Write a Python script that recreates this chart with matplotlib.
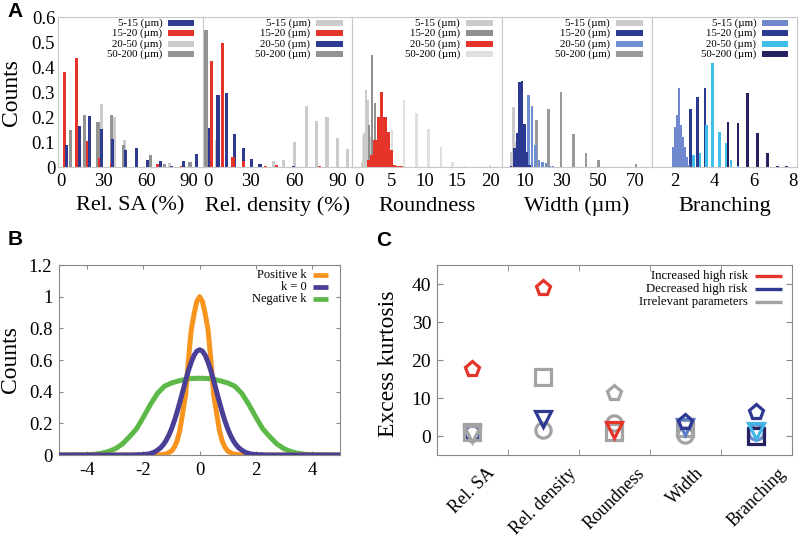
import matplotlib.pyplot as plt

plt.rcParams['font.family'] = ['Liberation Serif', 'DejaVu Serif']
plt.rcParams['axes.unicode_minus'] = False

size_labels = ['5-15 (µm)', '15-20 (µm)', '20-50 (µm)', '50-200 (µm)']

# ---- panel A: bar centres (x) and counts (h) for each size class
# Rel. SA
sa_x_5_15 = [4.2, 13.3, 20.2, 28.6, 36.3, 45.4, 53.0, 60.7, 69.8, 77.5, 85.8, 94.9]
sa_h_5_15 = [0.088, 0.164, 0.204, 0.152, 0.112, 0.068, 0.076, 0.028, 0.024, 0.004, 0.024, 0.052]
sa_x_15_20 = [2.8, 11.2, 18.8, 27.2, 35.6, 67.7, 84.4]
sa_h_15_20 = [0.38, 0.436, 0.105, 0.035, 0.015, 0.012, 0.005]
sa_x_20_50 = [28.5, 37.6, 44.7, 62.0, 76.0, 86.5]
sa_h_20_50 = [0.252, 0.2, 0.108, 0.03, 0.015, 0.005]
sa_x_50_200 = [7.0, 16.7, 26.0, 35.5, 44.0, 62.8, 72.5, 90.5]
sa_h_50_200 = [0.15, 0.21, 0.18, 0.21, 0.09, 0.048, 0.012, 0.02]

# Rel. density
rd_x_5_15 = [6.0, 16.5, 45.6, 52.7, 60.4, 68.5, 75.5, 82.8, 90.0, 97.0]
rd_h_5_15 = [0.108, 0.004, 0.024, 0.028, 0.101, 0.244, 0.184, 0.199, 0.115, 0.072]
rd_x_15_20 = [2.6, 10.3, 17.7, 24.7, 39.9, 47.6, 77.5]
rd_h_15_20 = [0.424, 0.497, 0.041, 0.025, 0.005, 0.008, 0.006]
rd_x_20_50 = [1.4, 7.2, 13.0, 18.9, 24.7, 30.5, 36.4, 59.4]
rd_h_20_50 = [0.157, 0.29, 0.295, 0.131, 0.075, 0.032, 0.011, 0.004]
rd_x_50_200 = [-1.0]
rd_h_50_200 = [0.548]

# Roundness
rn_x_5_15 = [0.5, 0.8, 1.1, 1.4, 1.7, 2.0]
rn_h_5_15 = [0.02, 0.135, 0.31, 0.27, 0.12, 0.05]
rn_x_15_20 = [1.6, 2.05, 2.45, 2.85, 3.2]
rn_h_15_20 = [0.168, 0.448, 0.255, 0.09, 0.02]
rn_x_20_50 = [1.5, 2.0, 2.5, 3.0, 3.5, 4.0, 4.5, 5.0, 5.5, 6.0, 6.5]
rn_h_20_50 = [0.03, 0.05, 0.11, 0.2, 0.3, 0.2, 0.14, 0.07, 0.01, 0.004, 0.004]
rn_x_50_200 = [0.7, 5.1, 6.9, 8.8, 10.6, 12.5, 14.3, 16.2, 20.0]
rn_h_50_200 = [0.13, 0.15, 0.268, 0.217, 0.152, 0.081, 0.019, 0.005, 0.01]

# Width
wd_x_5_15 = [2.3, 3.7, 5.1]
wd_h_5_15 = [0.06, 0.24, 0.1]
wd_x_15_20 = [2.4, 4.1, 5.6, 7.0, 8.4, 9.8, 11.1, 12.5]
wd_h_15_20 = [0.005, 0.075, 0.135, 0.34, 0.345, 0.172, 0.061, 0.01]
wd_x_20_50 = [9.9, 11.8, 13.9, 15.8, 17.7, 19.6, 21.5, 23.4, 25.3]
wd_h_20_50 = [0.12, 0.29, 0.245, 0.09, 0.027, 0.02, 0.015, 0.005, 0.004]
wd_x_50_200 = [16.3, 22.9, 29.7, 36.5, 43.3, 50.1, 70.5]
wd_h_50_200 = [0.188, 0.232, 0.299, 0.131, 0.057, 0.028, 0.012]

# Branching
br_x_5_15 = [1.93, 2.03, 2.13, 2.23, 2.33, 2.43, 2.53, 2.63, 2.73]
br_h_5_15 = [0.081, 0.161, 0.208, 0.315, 0.168, 0.121, 0.081, 0.041, 0.01]
br_x_15_20 = [2.8, 3.17, 3.53, 3.9, 4.27]
br_h_15_20 = [0.231, 0.279, 0.315, 0.088, 0.04]
br_x_20_50 = [2.95, 3.28, 3.62, 3.92, 4.25, 4.6, 4.85, 5.2]
br_h_20_50 = [0.05, 0.055, 0.168, 0.415, 0.141, 0.097, 0.03, 0.004]
br_x_50_200 = [4.7, 5.2, 5.7, 6.2, 6.7, 7.2, 7.65]
br_h_50_200 = [0.181, 0.175, 0.297, 0.137, 0.057, 0.005, 0.005]

# ---- panel B: curves
pos_x = [-5, -1.5, -1.2, -1.0, -0.9, -0.8, -0.7, -0.6, -0.5, -0.4, -0.3, -0.2, -0.1, 0,
         0.1, 0.2, 0.3, 0.4, 0.5, 0.6, 0.7, 0.8, 0.9, 1.0, 1.2, 1.5, 5]
pos_y = [0, 0, 0.006, 0.025, 0.05, 0.09, 0.16, 0.27, 0.38, 0.6, 0.79, 0.89, 0.97, 1.0,
         0.97, 0.89, 0.79, 0.6, 0.38, 0.27, 0.16, 0.09, 0.05, 0.025, 0.006, 0, 0]
zero_x = [-5, -2.4, -2.0, -1.8, -1.6, -1.4, -1.3, -1.2, -1.1, -1.0, -0.9, -0.8, -0.7, -0.6,
          -0.5, -0.4, -0.3, -0.2, -0.1, 0, 0.1, 0.2, 0.3, 0.4, 0.5, 0.6, 0.7, 0.8, 0.9,
          1.0, 1.1, 1.2, 1.3, 1.4, 1.6, 1.8, 2.0, 2.4, 5]
zero_y = [0, 0, 0.003, 0.007, 0.019, 0.044, 0.064, 0.09, 0.124, 0.166, 0.216, 0.273, 0.337,
          0.403, 0.47, 0.533, 0.586, 0.629, 0.656, 0.665, 0.656, 0.629, 0.586, 0.533, 0.47,
          0.403, 0.337, 0.273, 0.216, 0.166, 0.124, 0.09, 0.064, 0.044, 0.019, 0.007, 0.003, 0, 0]
neg_x = [-5, -4.5, -4.0, -3.75, -3.5, -3.25, -3.0, -2.75, -2.5, -2.25, -2.0, -1.75, -1.5,
         -1.25, -1.0, -0.75, -0.5, -0.25, 0, 0.25, 0.5, 0.75, 1.0, 1.25, 1.5, 1.75, 2.0,
         2.25, 2.5, 2.75, 3.0, 3.25, 3.5, 3.75, 4.0, 4.5, 5]
neg_y = [0, 0, 0.002, 0.005, 0.011, 0.022, 0.04, 0.07, 0.115, 0.165, 0.24, 0.32, 0.39,
         0.435, 0.455, 0.468, 0.478, 0.484, 0.485, 0.484, 0.478, 0.468, 0.455, 0.435, 0.39,
         0.32, 0.24, 0.165, 0.115, 0.07, 0.04, 0.022, 0.011, 0.005, 0.002, 0, 0]

# ---- panel C: excess kurtosis per parameter and size class
kurt_params = ['Rel. SA', 'Rel. density', 'Roundness', 'Width', 'Branching']
kurt_5_15 = [0.8, 1.7, 3.5, 0.3, 1.0]
kurt_15_20 = [17.6, 39.0, 11.4, 3.8, 6.2]
kurt_20_50 = [0.5, 4.5, 1.6, 2.3, 1.3]
kurt_50_200 = [1.1, 15.6, 1.1, 2.0, 0.0]

RED = '#e5352b'
BLUE = '#2e3a92'
LGREY = '#cbcbcb'
DGREY = '#939393'
GREY = '#a3a3a3'

fig = plt.figure(figsize=(8, 5.39), dpi=100)


def hist_panel(left, width, series, colors, widths, order, xlim, xticks, xlabel, first=False):
    ax = fig.add_axes([left, 0.690, width, 0.2783])
    for i in order:
        x, h = series[i]
        ax.bar(x, h, width=widths[i], color=colors[i], linewidth=0, zorder=2)
    ax.set_xlim(*xlim)
    ax.set_ylim(0, 0.6)
    ax.set_xticks(xticks)
    ax.tick_params(length=0, labelsize=13.5, pad=4)
    for s in ax.spines.values():
        s.set_color('#c8c8c8')
    if first:
        ax.set_yticks([0, 0.1, 0.2, 0.3, 0.4, 0.5, 0.6])
        ax.set_yticklabels(['0', '0.1', '0.2', '0.3', '0.4', '0.5', '0.6'])
        ax.tick_params(axis='y', pad=2)
    else:
        ax.set_yticks([])
    ax.text(0.5, -0.26, xlabel, transform=ax.transAxes, ha='center', va='center', fontsize=16)
    for k in range(4):
        yy = 0.96 - k * 0.069
        ax.text(0.72, yy, size_labels[k], transform=ax.transAxes, ha='right', va='center',
                fontsize=7.8)
        ax.plot([0.76, 0.94], [yy, yy], transform=ax.transAxes, color=colors[k], lw=4.3,
                solid_capstyle='butt')
    return ax


hist_panel(0.0725, 0.181,
           [(sa_x_5_15, sa_h_5_15), (sa_x_15_20, sa_h_15_20),
            (sa_x_20_50, sa_h_20_50), (sa_x_50_200, sa_h_50_200)],
           [BLUE, RED, LGREY, DGREY], [2.2, 2.2, 2.2, 2.2], [2, 3, 1, 0],
           (-2, 99.5), [0, 30, 60, 90], 'Rel. SA (%)', first=True)
hist_panel(0.254, 0.186,
           [(rd_x_5_15, rd_h_5_15), (rd_x_15_20, rd_h_15_20),
            (rd_x_20_50, rd_h_20_50), (rd_x_50_200, rd_h_50_200)],
           [LGREY, RED, BLUE, DGREY], [2.3, 2.3, 2.3, 2.3], [0, 3, 2, 1],
           (-3, 100), [0, 30, 60, 90], 'Rel. density (%)')
hist_panel(0.44, 0.1875,
           [(rn_x_5_15, rn_h_5_15), (rn_x_15_20, rn_h_15_20),
            (rn_x_20_50, rn_h_20_50), (rn_x_50_200, rn_h_50_200)],
           [LGREY, '#8f8f8f', RED, '#e0e0e0'], [0.35, 0.35, 0.5, 0.38], [3, 0, 1, 2],
           (-1, 21.8), [0, 5, 10, 15, 20], 'Roundness')
hist_panel(0.6275, 0.1875,
           [(wd_x_5_15, wd_h_5_15), (wd_x_15_20, wd_h_15_20),
            (wd_x_20_50, wd_h_20_50), (wd_x_50_200, wd_h_50_200)],
           [LGREY, '#2b3990', '#6e8fd0', '#999999'], [1.35, 1.35, 1.35, 1.35], [0, 3, 2, 1],
           (-2.6, 79.3), [10, 30, 50, 70], 'Width (µm)')
hist_panel(0.815, 0.181,
           [(br_x_5_15, br_h_5_15), (br_x_15_20, br_h_15_20),
            (br_x_20_50, br_h_20_50), (br_x_50_200, br_h_50_200)],
           ['#7088cc', '#2b3990', '#40bfe8', '#262262'], [0.1, 0.14, 0.14, 0.14], [3, 1, 0, 2],
           (0.85, 8.18), [2, 4, 6, 8], 'Branching')

fig.text(0.015, 0.829, 'Counts', rotation=90, ha='center', va='center', fontsize=17)

# ---- panel B
axb = fig.add_axes([0.0741, 0.1558, 0.3509, 0.3525])
axb.plot(neg_x, neg_y, color='#5cb847', lw=3.6, zorder=2)
axb.plot(pos_x, pos_y, color='#f7941d', lw=3.6, zorder=3)
axb.plot(zero_x, zero_y, color='#4a3f96', lw=3.6, zorder=4)
axb.set_xlim(-5, 5)
axb.set_ylim(0, 1.2)
axb.set_xticks([-4, -2, 0, 2, 4])
axb.set_yticks([0, 0.2, 0.4, 0.6, 0.8, 1.0, 1.2])
axb.set_yticklabels(['0', '0.2', '0.4', '0.6', '0.8', '1', '1.2'])
axb.tick_params(direction='in', top=True, right=True, length=3, color='#888888',
                labelsize=13.5, pad=5)
for s in axb.spines.values():
    s.set_color('#888888')
axb.set_ylabel('Counts', fontsize=17, labelpad=6)
for k, (lab, col) in enumerate(zip(['Positive k', 'k = 0', 'Negative k'],
                                   ['#f7941d', '#4a3f96', '#5cb847'])):
    yy = 0.947 - k * 0.063
    axb.text(0.882, yy, lab, transform=axb.transAxes, ha='right', va='center', fontsize=9)
    axb.plot([0.903, 0.959], [yy, yy], transform=axb.transAxes, color=col, lw=3.4,
             solid_capstyle='butt')

# ---- panel C
axc = fig.add_axes([0.546, 0.1558, 0.444, 0.3525])
pos = [1, 2, 3, 4, 5]
groups = [
    (kurt_5_15, 'o', [BLUE, GREY, GREY, GREY, '#6b8ccc']),
    (kurt_50_200, 's', [GREY, GREY, GREY, GREY, '#262262']),
    (kurt_20_50, 'v', [GREY, BLUE, RED, '#5d7fc7', '#41b6e6']),
    (kurt_15_20, 'p', [RED, RED, GREY, BLUE, BLUE]),
]
for vals, mk, cols in groups:
    for xi, v, c in zip(pos, vals, cols):
        axc.plot(xi, v, linestyle='none', marker=mk, ms=11, mfc='none', mec=c, mew=2.3)
axc.set_xlim(0.5, 5.5)
axc.set_ylim(-5, 45)
axc.set_xticks(pos)
axc.set_xticklabels(kurt_params, rotation=45, ha='center', fontsize=13)
axc.set_xticks([1.5, 2.5, 3.5, 4.5], minor=True)
axc.tick_params(axis='x', which='major', length=0, pad=7)
axc.tick_params(axis='x', which='minor', direction='in', top=True, length=4, color='#888888')
axc.set_yticks([0, 10, 20, 30, 40])
axc.tick_params(axis='y', direction='in', right=True, length=4, color='#888888',
                labelsize=14, pad=4)
for s in axc.spines.values():
    s.set_color('#888888')
fig.text(0.485, 0.325, 'Excess kurtosis', rotation=90, ha='center', va='center', fontsize=17)
for k, (lab, col) in enumerate(zip(['Increased high risk', 'Decreased high risk',
                                    'Irrelevant parameters'], [RED, BLUE, GREY])):
    yy = 0.942 - k * 0.068
    axc.text(0.876, yy, lab, transform=axc.transAxes, ha='right', va='center', fontsize=9.2)
    axc.plot([0.896, 0.972], [yy, yy], transform=axc.transAxes, color=col, lw=2.4,
             solid_capstyle='butt')

# panel letters
for lab, x, y in [('A', 0.019, 0.978), ('B', 0.019, 0.555), ('C', 0.479, 0.553)]:
    fig.text(x, y, lab, family='Liberation Sans', weight='bold', fontsize=15,
             ha='center', va='center')

fig.savefig('out.png', dpi=100)
